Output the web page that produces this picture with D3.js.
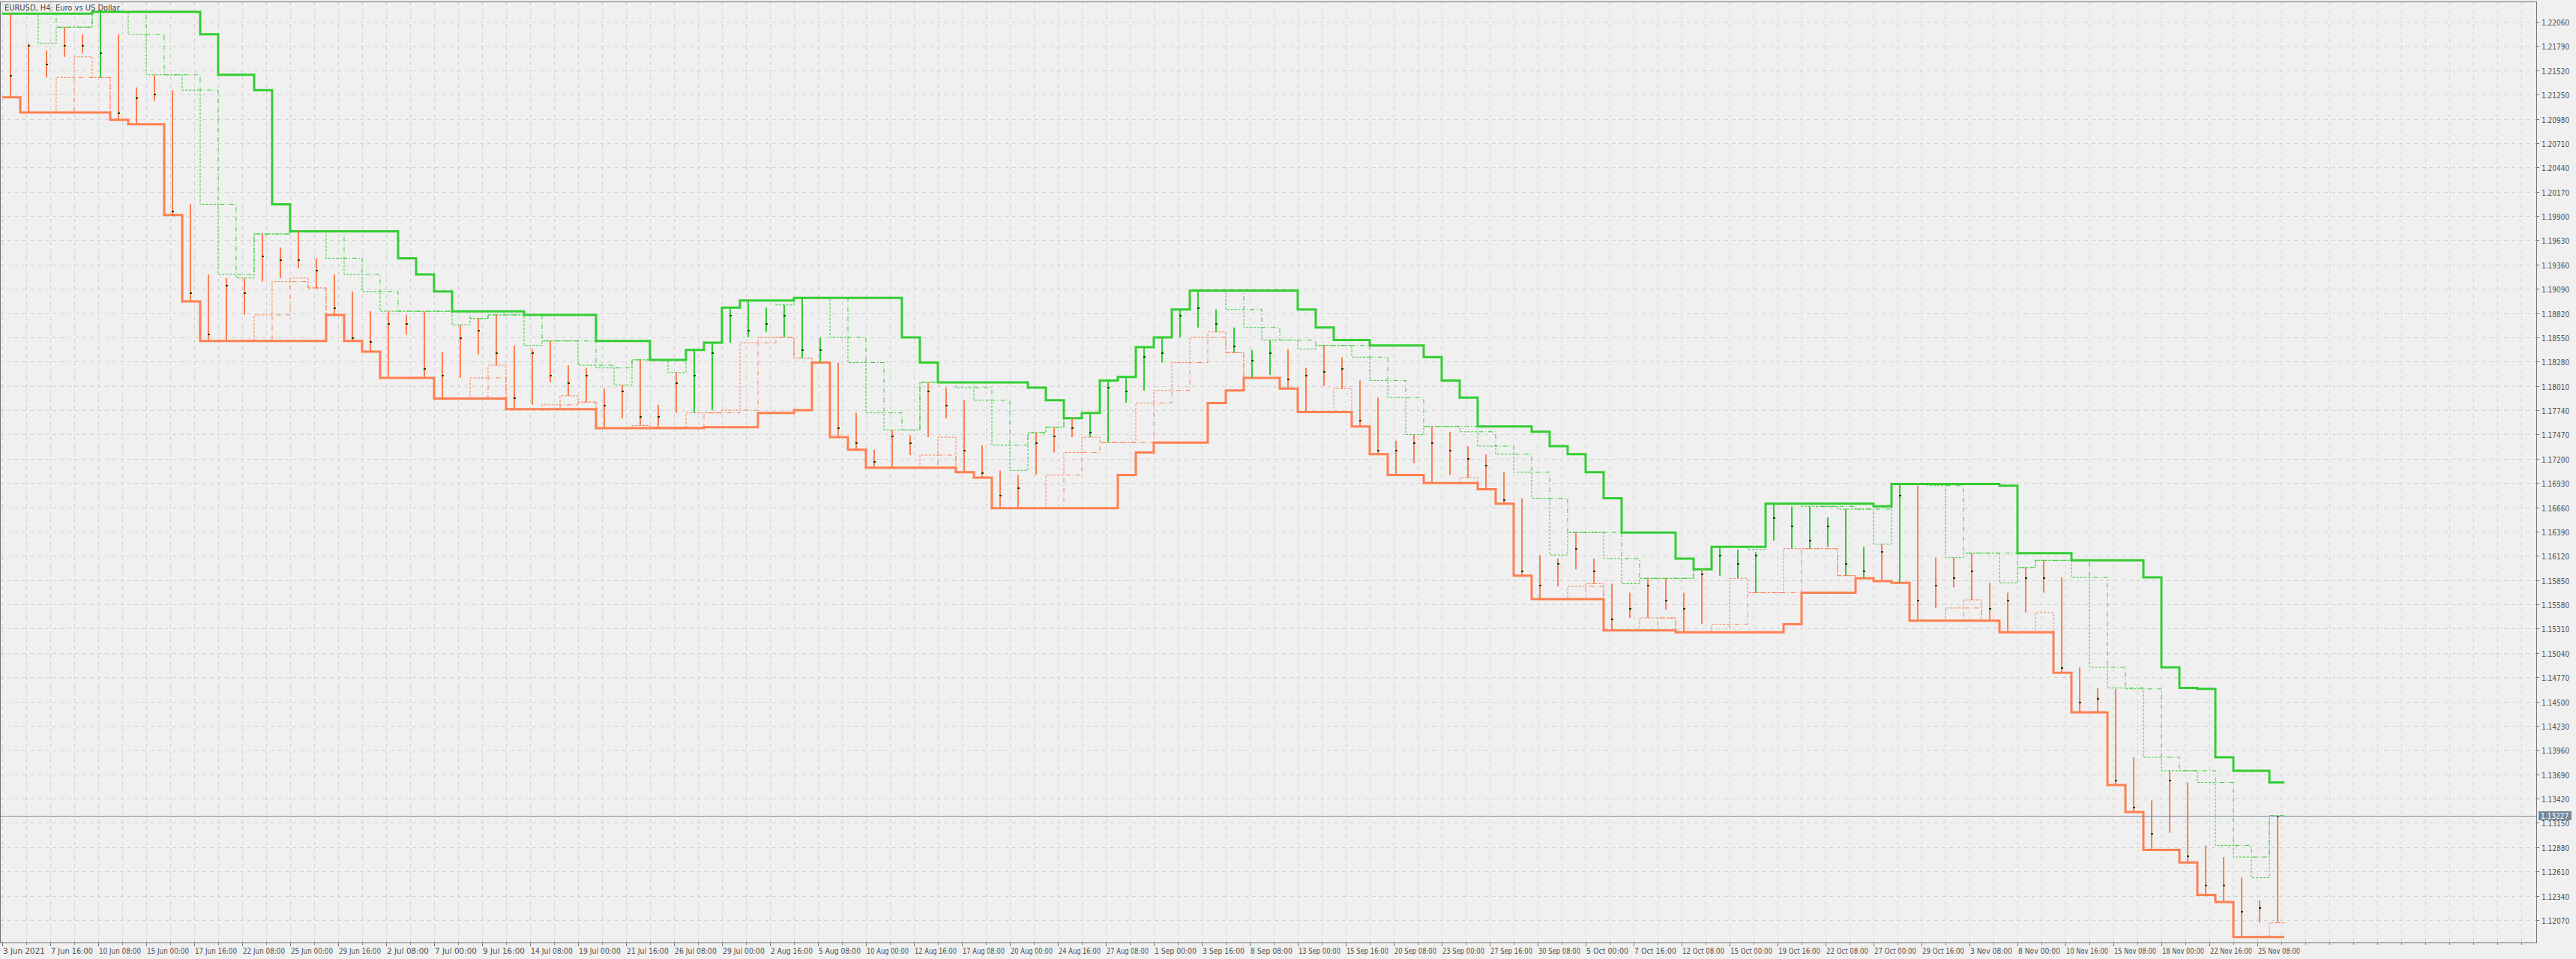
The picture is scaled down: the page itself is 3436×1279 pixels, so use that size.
<!DOCTYPE html>
<html><head><meta charset="utf-8">
<script src="https://cdn.jsdelivr.net/npm/d3@7"></script>
<style>html,body{margin:0;padding:0;background:#F0F0F0;}svg{display:block;}</style>
</head><body>
<svg id="c" width="3436" height="1279"></svg>
<script>
// Daily high / low / close of EURUSD (H4 chart, 3 Jun 2021 – 26 Nov 2021)
const dayHigh=[1.2215,1.2182,1.2174,1.2200,1.2192,1.2217,1.2192,1.2133,1.2147,1.2130,1.2003,1.1925,1.1921,1.1921,1.1970,1.1955,1.1973,1.1943,1.1925,1.1906,1.1884,1.1884,1.1880,1.1884,1.1839,1.1869,1.1876,1.1880,1.1846,1.1842,1.1851,1.1824,1.1821,1.1798,1.1802,1.1830,1.1780,1.1816,1.1841,1.1849,1.1888,1.1896,1.1888,1.1891,1.1899,1.1855,1.1827,1.1771,1.1730,1.1752,1.1746,1.1805,1.1799,1.1785,1.1735,1.1707,1.1702,1.1749,1.1755,1.1765,1.1771,1.1807,1.1811,1.1844,1.1855,1.1886,1.1907,1.1886,1.1866,1.1841,1.1852,1.1842,1.1821,1.1846,1.1833,1.1807,1.1788,1.1740,1.1747,1.1756,1.1750,1.1734,1.1725,1.1705,1.1676,1.1613,1.1609,1.1638,1.1609,1.1581,1.1571,1.1587,1.1587,1.1571,1.1597,1.1622,1.1619,1.1616,1.1670,1.1667,1.1667,1.1655,1.1664,1.1622,1.1625,1.1692,1.1690,1.1610,1.1610,1.1615,1.1582,1.1571,1.1599,1.1607,1.1588,1.1488,1.1465,1.1464,1.1388,1.1340,1.1373,1.1360,1.1290,1.1277,1.1254,1.1229,1.1323];
const dayLow=[1.2122,1.2105,1.2144,1.2167,1.2171,1.2144,1.2097,1.2092,1.2118,1.1991,1.1895,1.1851,1.1851,1.1880,1.1917,1.1921,1.1932,1.1910,1.1880,1.1851,1.1839,1.1810,1.1858,1.1810,1.1787,1.1810,1.1836,1.1824,1.1775,1.1780,1.1805,1.1790,1.1783,1.1754,1.1765,1.1757,1.1755,1.1771,1.1771,1.1774,1.1849,1.1855,1.1861,1.1855,1.1832,1.1827,1.1744,1.1730,1.1710,1.1710,1.1724,1.1744,1.1765,1.1705,1.1699,1.1665,1.1665,1.1702,1.1727,1.1744,1.1744,1.1738,1.1782,1.1796,1.1827,1.1855,1.1866,1.1861,1.1838,1.1810,1.1813,1.1798,1.1772,1.1801,1.1798,1.1756,1.1725,1.1702,1.1715,1.1693,1.1702,1.1699,1.1686,1.1670,1.1590,1.1564,1.1578,1.1597,1.1581,1.1529,1.1543,1.1543,1.1552,1.1527,1.1536,1.1590,1.1587,1.1571,1.1629,1.1620,1.1620,1.1622,1.1590,1.1587,1.1584,1.1582,1.1540,1.1554,1.1577,1.1563,1.1540,1.1527,1.1549,1.1571,1.1482,1.1438,1.1438,1.1357,1.1327,1.1285,1.1304,1.1271,1.1235,1.1227,1.1188,1.1204,1.1204];
const dayClose=[1.2147,1.2180,1.2159,1.2180,1.2180,1.2172,1.2105,1.2122,1.2126,1.1996,1.1905,1.1859,1.1913,1.1905,1.1946,1.1942,1.1942,1.1930,1.1888,1.1855,1.1851,1.1871,1.1871,1.1821,1.1813,1.1855,1.1863,1.1838,1.1788,1.1838,1.1813,1.1805,1.1813,1.1780,1.1796,1.1767,1.1767,1.1805,1.1813,1.1838,1.1880,1.1863,1.1871,1.1880,1.1842,1.1842,1.1755,1.1738,1.1717,1.1746,1.1738,1.1796,1.1780,1.1730,1.1705,1.1680,1.1688,1.1738,1.1746,1.1755,1.1750,1.1800,1.1796,1.1834,1.1838,1.1880,1.1888,1.1871,1.1846,1.1830,1.1838,1.1809,1.1813,1.1817,1.1821,1.1763,1.1730,1.1730,1.1738,1.1738,1.1730,1.1721,1.1713,1.1675,1.1596,1.1580,1.1604,1.1621,1.1596,1.1542,1.1554,1.1580,1.1563,1.1554,1.1592,1.1613,1.1604,1.1613,1.1655,1.1646,1.1630,1.1646,1.1604,1.1596,1.1617,1.1680,1.1563,1.1580,1.1588,1.1596,1.1554,1.1563,1.1588,1.1588,1.1488,1.1450,1.1454,1.1363,1.1333,1.1304,1.1363,1.1279,1.1246,1.1246,1.1217,1.1221,1.13227];
const timeLabels=["3 Jun 2021","7 Jun 16:00","10 Jun 08:00","15 Jun 00:00","17 Jun 16:00","22 Jun 08:00","25 Jun 00:00","29 Jun 16:00","2 Jul 08:00","7 Jul 00:00","9 Jul 16:00","14 Jul 08:00","19 Jul 00:00","21 Jul 16:00","26 Jul 08:00","29 Jul 00:00","2 Aug 16:00","5 Aug 08:00","10 Aug 00:00","12 Aug 16:00","17 Aug 08:00","20 Aug 00:00","24 Aug 16:00","27 Aug 08:00","1 Sep 00:00","3 Sep 16:00","8 Sep 08:00","13 Sep 00:00","15 Sep 16:00","20 Sep 08:00","23 Sep 00:00","27 Sep 16:00","30 Sep 08:00","5 Oct 00:00","7 Oct 16:00","12 Oct 08:00","15 Oct 00:00","19 Oct 16:00","22 Oct 08:00","27 Oct 00:00","29 Oct 16:00","3 Nov 08:00","8 Nov 00:00","10 Nov 16:00","15 Nov 08:00","18 Nov 00:00","22 Nov 16:00","25 Nov 08:00"];
const priceTicks=[1.22060,1.21790,1.21520,1.21250,1.20980,1.20710,1.20440,1.20170,1.19900,1.19630,1.19360,1.19090,1.18820,1.18550,1.18280,1.18010,1.17740,1.17470,1.17200,1.16930,1.16660,1.16390,1.16120,1.15850,1.15580,1.15310,1.15040,1.14770,1.14500,1.14230,1.13960,1.13690,1.13420,1.13150,1.12880,1.12610,1.12340,1.12070];
const lastPrice=1.13227;
const title="EURUSD, H4:  Euro vs US Dollar";
const barsPerDay=6, barsPerLabel=16, longWin=6, midWin=3, shortWin=2;

const GREEN="#32CD32", CORAL="#FF7F50", TICK="#0b3d0b";
const svg=d3.select("#c");
const plotR=3383, plotB=1257, plotT=2;
const nBars=dayClose.length*barsPerDay;
const x=d3.scaleLinear().domain([0,1]).range([3,7]); // 4 px per H4 bar
const y=d3.scaleLinear().domain([1.12070,1.22060]).range([1227,29]);
const font="Tahoma, 'DejaVu Sans Condensed', 'Liberation Sans', Arial, sans-serif";

const g=svg.append("g");
for(let b=0;x(b)<plotR;b+=8){
  g.append("line").attr("x1",x(b)+0.5).attr("x2",x(b)+0.5).attr("y1",plotT).attr("y2",plotB)
   .attr("stroke","#D2D2D2").attr("stroke-dasharray","5,5");
}
priceTicks.forEach(p=>{
  g.append("line").attr("x1",0).attr("x2",plotR).attr("y1",Math.round(y(p))+0.5).attr("y2",Math.round(y(p))+0.5)
   .attr("stroke","#D2D2D2").attr("stroke-dasharray","5,5");
});

function chan(win,fnHi){
  return dayClose.map((_,d)=>{
    const s=Math.max(0,d-win+1);
    return fnHi? d3.max(dayHigh.slice(s,d+1)) : d3.min(dayLow.slice(s,d+1));
  });
}
const upL=chan(longWin,true), loL=chan(longWin,false);
const upM=chan(midWin,true), loM=chan(midWin,false);
const upS=chan(shortWin,true), loS=chan(shortWin,false);
function pts(arr){const p=arr.map((v,d)=>[x(d*barsPerDay),y(v)]);p.push([x(nBars-1),y(arr[arr.length-1])]);return p;}
const line=d3.line().curve(d3.curveStepAfter);
const cg=svg.append("g").attr("fill","none");
cg.append("path").attr("d",line(pts(upM))).attr("stroke",GREEN).attr("stroke-width",1).attr("stroke-dasharray","6,3,1,3");
cg.append("path").attr("d",line(pts(loM))).attr("stroke",CORAL).attr("stroke-width",1).attr("stroke-dasharray","6,3,1,3");
cg.append("path").attr("d",line(pts(upS))).attr("stroke",GREEN).attr("stroke-width",1).attr("stroke-dasharray","3,2");
cg.append("path").attr("d",line(pts(loS))).attr("stroke",CORAL).attr("stroke-width",1).attr("stroke-dasharray","3,2");

let state=false;
const bg=svg.append("g");
dayClose.forEach((c,d)=>{
  if(d>0){ if(dayHigh[d]>=upL[d-1]) state=true; else if(dayLow[d]<=loL[d-1]) state=false; }
  const bx=Math.round(x(d*barsPerDay+2.5));
  bg.append("rect").attr("x",bx).attr("y",y(dayHigh[d])).attr("width",2).attr("height",Math.max(1,y(dayLow[d])-y(dayHigh[d])))
    .attr("fill",state?GREEN:CORAL);
  bg.append("rect").attr("x",bx).attr("y",Math.round(y(c))).attr("width",3).attr("height",2).attr("fill",TICK);
});
cg.append("path").attr("d",line(pts(upL))).attr("stroke",GREEN).attr("stroke-width",3);
cg.append("path").attr("d",line(pts(loL))).attr("stroke",CORAL).attr("stroke-width",3);

svg.append("line").attr("x1",0).attr("x2",plotR).attr("y1",Math.round(y(lastPrice))+0.5).attr("y2",Math.round(y(lastPrice))+0.5)
  .attr("stroke","#778899").attr("stroke-width",1);

svg.append("rect").attr("x",0.5).attr("y",plotT+0.5).attr("width",plotR).attr("height",plotB-plotT).attr("fill","none").attr("stroke","#707070");

const ya=svg.append("g").attr("font-family",font).attr("font-size",10).attr("fill","#505050");
priceTicks.forEach(p=>{
  const yy=Math.round(y(p))+0.5;
  ya.append("line").attr("x1",plotR).attr("x2",plotR+4).attr("y1",yy).attr("y2",yy).attr("stroke","#707070");
  ya.append("text").attr("x",plotR+7).attr("y",yy+4).text(p.toFixed(5));
});
const ly=Math.round(y(lastPrice));
svg.append("rect").attr("x",plotR+3).attr("y",ly-6).attr("width",44).attr("height",12).attr("fill","#778899");
svg.append("text").attr("x",plotR+6).attr("y",ly+4).attr("font-family",font).attr("font-size",10).attr("fill","#fff").text(lastPrice.toFixed(5));

const xa=svg.append("g").attr("font-family",font).attr("font-size",10).attr("fill","#505050");
for(let b=0;x(b)<plotR;b+=8){
  const xx=x(b)+0.5, major=(b%barsPerLabel===0)&&(b/barsPerLabel<timeLabels.length);
  xa.append("line").attr("x1",xx).attr("x2",xx).attr("y1",plotB).attr("y2",plotB+(major?5:3)).attr("stroke","#707070");
}
timeLabels.forEach((t,k)=>{
  xa.append("text").attr("x",x(k*barsPerLabel)+1).attr("y",plotB+15).attr("textLength",56).attr("lengthAdjust","spacingAndGlyphs").text(t);
});

svg.append("text").attr("x",6).attr("y",14).attr("font-family",font).attr("font-size",11).attr("fill","#404040").text(title);
</script>
</body></html>
